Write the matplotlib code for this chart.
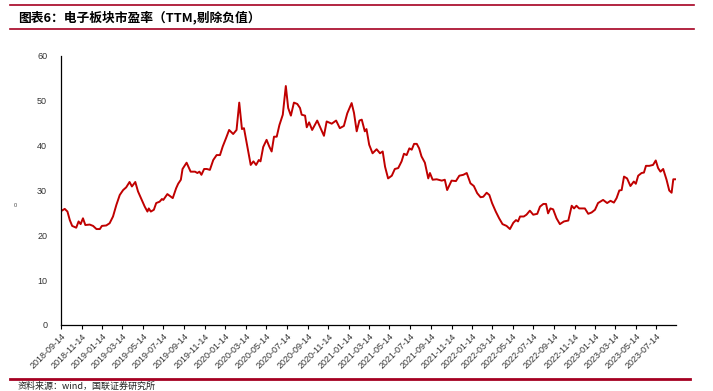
import numpy as np
import pandas as pd
import matplotlib
matplotlib.use("Agg")
import matplotlib.pyplot as plt
import matplotlib.dates as mdates

# PE (TTM) of the electronics sector
start_date = "2018-09-14"
days_from_start = [
    0, 11, 19, 26, 33, 45, 52, 58, 65, 72, 85, 95, 105, 115, 121, 134, 144, 154,
    164, 174, 184, 193, 203, 210, 220, 228, 238, 248, 256, 260, 266, 275, 282,
    292, 299, 303, 315, 331, 341, 347, 355, 360, 372, 384, 397, 404, 410, 416,
    424, 432, 441, 451, 461, 471, 479, 489, 498, 510, 520, 528, 536, 542, 552,
    562, 570, 578, 586, 591, 599, 609, 617, 624, 631, 639, 647, 657, 666, 673,
    681, 690, 700, 708, 713, 723, 728, 735, 744, 759, 769, 779, 787, 802, 815,
    826, 838, 848, 861, 868, 876, 884, 891, 900, 905, 913, 923, 935, 945, 953,
    960, 969, 980, 989, 999, 1009, 1016, 1024, 1032, 1039, 1046, 1054, 1061,
    1068, 1078, 1088, 1093, 1101, 1113, 1128, 1137, 1144, 1157, 1170, 1180,
    1192, 1202, 1213, 1223, 1233, 1243, 1251, 1261, 1269, 1277, 1288, 1298,
    1308, 1320, 1330, 1340, 1348, 1354, 1360, 1371, 1379, 1389, 1399, 1411,
    1419, 1429, 1437, 1443, 1450, 1458, 1468, 1478, 1490, 1503, 1513, 1520,
    1527, 1535, 1552, 1562, 1572, 1582, 1591, 1606, 1618, 1628, 1638, 1646,
    1654, 1661, 1668, 1677, 1687, 1697, 1703, 1710, 1720, 1727, 1733, 1743,
    1754, 1762, 1769, 1776, 1784, 1794, 1802, 1809, 1814, 1821,
]
pe_ttm = [
    25.4, 25.9, 25.3, 23.4, 22.1, 21.7, 23.1, 22.5, 23.8, 22.3, 22.4, 22.1,
    21.4, 21.4, 22.1, 22.2, 22.7, 24.2, 26.8, 29.0, 30.1, 30.7, 31.9, 30.9,
    31.9, 29.8, 28.1, 26.4, 25.3, 26.0, 25.3, 25.7, 27.2, 27.5, 28.1, 27.9,
    29.2, 28.3, 30.5, 31.5, 32.4, 34.8, 36.2, 34.2, 34.2, 33.9, 34.2, 33.5,
    34.8, 34.8, 34.6, 36.8, 37.9, 37.9, 39.8, 41.7, 43.5, 42.6, 43.5, 49.6,
    43.7, 43.9, 39.8, 35.7, 36.5, 35.7, 36.8, 36.5, 39.7, 41.3, 39.8, 38.7,
    42.0, 42.0, 44.6, 46.9, 53.3, 48.4, 46.7, 49.6, 49.3, 48.4, 46.9, 46.7,
    44.1, 45.2, 43.5, 45.6, 43.9, 42.2, 45.4, 44.9, 45.6, 43.9, 44.4, 47.2,
    49.5, 47.3, 43.2, 45.6, 45.8, 43.2, 43.7, 40.2, 38.3, 39.2, 38.3, 38.7,
    35.3, 32.7, 33.3, 34.8, 35.0, 36.5, 38.2, 37.9, 39.4, 39.1, 40.4, 40.4,
    39.4, 37.6, 36.2, 32.7, 33.9, 32.4, 32.5, 32.2, 32.4, 30.1, 32.2, 32.1,
    33.3, 33.5, 33.9, 31.6, 31.0, 29.4, 28.5, 28.6, 29.5, 29.0, 27.2, 25.3,
    23.8, 22.5, 22.1, 21.4, 22.8, 23.4, 23.1, 24.2, 24.2, 24.6, 25.5, 24.6,
    24.8, 26.4, 27.0, 27.0, 24.9, 26.0, 25.8, 23.8, 22.5, 23.1, 23.3, 26.6,
    26.0, 26.6, 26.0, 26.0, 24.8, 25.1, 25.7, 27.2, 27.9, 27.2, 27.7, 27.3,
    28.3, 30.0, 30.1, 33.1, 32.7, 31.0, 32.0, 31.5, 33.3, 33.9, 34.0, 35.5,
    35.5, 35.7, 36.7, 35.0, 34.2, 34.8, 32.4, 30.0, 29.5, 32.5, 32.5,
]
# tick every two months on the 14th, 2018-09-14 ... 2023-07-14
tick_dates = pd.date_range("2018-09-01", "2023-07-01", freq="2MS") + pd.Timedelta(days=13)
y_ticks = [0, 10, 20, 30, 40, 50, 60]

title_text = "图表6：电子板块市盈率（TTM,剔除负值）"
source_text = "资料来源：wind，国联证券研究所"

plt.rcParams['font.family'] = ['Liberation Sans', 'Noto Sans CJK SC', 'DejaVu Sans']

dates = pd.Timestamp(start_date) + pd.to_timedelta(days_from_start, unit="D")

fig = plt.figure(figsize=(7.13, 3.91), dpi=100)
ax = fig.add_axes([0.0856, 0.1688, 0.8625, 0.688])

ax.plot(dates, pe_ttm, color="#C00000", linewidth=1.4)

ax.set_ylim(0, 60)
ax.set_yticks(y_ticks)
ax.set_xlim(pd.Timestamp(start_date), pd.Timestamp(start_date) + pd.Timedelta(days=1822))
ax.set_xticks(tick_dates)
ax.xaxis.set_major_formatter(mdates.DateFormatter("%Y-%m-%d"))
for lab in ax.get_xticklabels():
    lab.set_rotation(45)
    lab.set_ha("right")
    lab.set_rotation_mode("anchor")

ax.tick_params(axis="x", length=3, width=0.8, labelsize=6.5, labelcolor="#333333", pad=2)
ax.tick_params(axis="y", length=0, labelsize=6.5, labelcolor="#333333", pad=10)
for side in ["top", "right"]:
    ax.spines[side].set_visible(False)
for side in ["left", "bottom"]:
    ax.spines[side].set_color("black")
    ax.spines[side].set_linewidth(0.9)

# header / footer rules and texts
line_color = "#A50021"
fig.add_artist(plt.Line2D([0.014, 0.974], [0.987, 0.987], color=line_color, linewidth=1.2))
fig.add_artist(plt.Line2D([0.014, 0.974], [0.925, 0.925], color=line_color, linewidth=1.2))
fig.add_artist(plt.Line2D([0.014, 0.968], [0.030, 0.030], color=line_color, linewidth=2.0))
fig.text(0.026, 0.956, title_text, fontsize=9.2, fontweight="bold",
         family=['Noto Sans CJK SC', 'DejaVu Sans'], va="center", ha="left")
fig.text(0.024, 0.012, source_text, fontsize=6.5,
         family=['Noto Sans CJK SC', 'DejaVu Sans'], va="center", ha="left", color="#222222")
fig.text(0.021, 0.474, "0", fontsize=4, color="#444444", va="center", ha="center")

fig.savefig("out.png", dpi=100)
